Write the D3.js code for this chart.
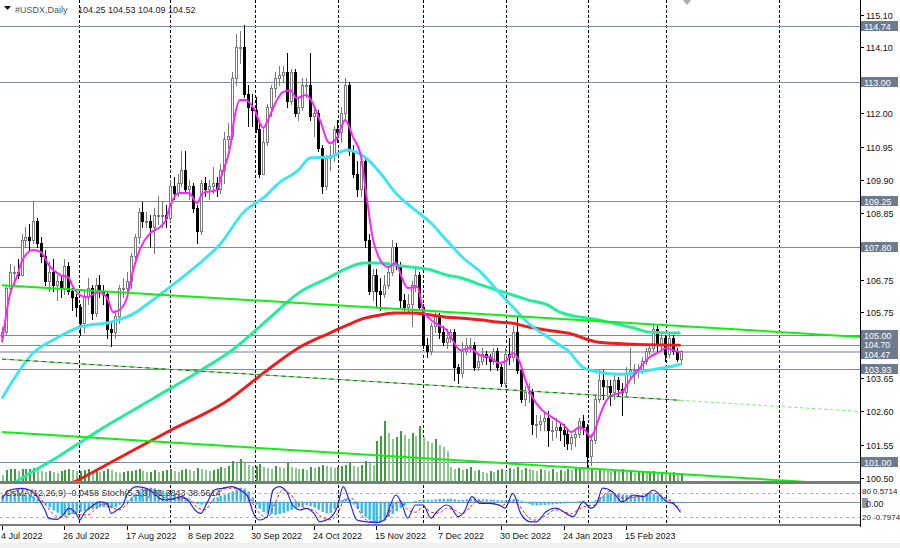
<!DOCTYPE html>
<html><head><meta charset="utf-8">
<script src="https://cdn.jsdelivr.net/npm/d3@7"></script>
<style>
body{margin:0;background:#fff}
svg{display:block}
text{font-family:"Liberation Sans",Arial,sans-serif;font-size:9px}
</style>
</head><body>
<svg id="c" width="900" height="548"></svg>
<script>
// ---------------- DATA ----------------
const symbolTitle = "#USDX,Daily";
const titleValues = "104.25 104.53 104.09 104.52";
// daily bars [open, high, low, close], bar 0 = 4 Jul 2022
const bars = [
[104.95,105.25,104.85,105.10],[105.10,106.60,105.00,106.50],[106.50,107.25,106.40,107.00],[107.00,107.20,106.60,107.00],
[107.00,107.40,106.80,106.90],[106.90,108.20,106.90,108.00],[108.00,108.40,107.80,108.10],[108.10,108.50,107.70,108.00],
[108.00,109.25,107.90,108.60],[108.60,108.70,107.80,107.90],[107.90,108.10,107.30,107.50],[107.50,107.70,106.60,106.70],
[106.70,107.30,106.40,107.00],[107.00,107.40,106.40,106.60],[106.60,106.90,106.10,106.70],[106.70,106.90,106.20,106.50],
[106.50,107.40,106.30,107.20],[107.20,107.30,106.30,106.40],[106.40,106.50,105.80,106.20],[106.20,106.30,105.60,105.90],
[105.90,106.00,105.00,105.40],[105.40,106.40,105.10,106.20],[106.20,106.80,106.00,106.50],[106.50,106.60,105.50,105.70],
[105.70,106.80,105.60,106.60],[106.60,106.90,106.20,106.40],[106.40,106.60,106.00,106.30],[106.30,106.40,104.90,105.20],
[105.20,105.40,104.65,105.10],[105.10,105.80,104.90,105.60],[105.60,106.60,105.40,106.50],[106.50,106.80,106.20,106.50],
[106.50,107.00,106.30,106.70],[106.70,107.60,106.50,107.50],[107.50,108.20,107.30,108.10],[108.10,109.00,107.90,108.90],
[108.90,109.20,108.40,108.60],[108.60,108.90,108.40,108.60],[108.60,108.80,107.80,108.40],[108.40,109.00,107.60,108.80],
[108.80,109.40,108.50,108.80],[108.80,109.20,108.40,108.80],[108.80,109.10,108.40,108.70],[108.70,109.90,108.60,109.70],
[109.70,110.00,109.30,109.50],[109.50,110.10,109.40,109.80],[109.80,110.80,109.70,110.20],[110.20,110.80,109.50,109.60],
[109.60,109.90,109.30,109.70],[109.70,109.80,108.90,109.00],[109.00,109.10,107.90,108.30],[108.30,109.90,108.20,109.80],
[109.80,110.00,109.40,109.60],[109.60,109.90,109.30,109.70],[109.70,110.30,109.50,109.80],[109.80,110.00,109.40,109.60],
[109.60,110.40,109.50,110.20],[110.20,111.40,109.80,111.20],[111.20,111.70,110.90,111.30],[111.30,113.30,111.20,113.10],
[113.10,114.50,112.90,114.10],[114.10,114.60,113.60,114.10],[114.10,114.78,112.50,112.60],[112.60,112.90,111.60,112.20],
[112.20,112.60,111.60,112.10],[112.10,112.50,111.40,111.50],[111.50,111.70,110.00,110.10],[110.10,111.50,110.10,111.10],
[111.10,112.30,111.00,112.20],[112.20,112.90,111.90,112.80],[112.80,113.30,112.50,113.10],[113.10,113.50,112.90,113.20],
[113.20,113.50,113.00,113.30],[113.30,113.90,112.20,112.40],[112.40,113.40,112.30,113.30],[113.30,113.40,111.90,112.00],
[112.00,112.50,111.80,112.20],[112.20,113.10,112.10,112.90],[112.90,113.10,112.50,112.90],[112.90,113.90,111.80,111.90],
[111.90,112.20,111.30,112.00],[112.00,112.10,110.80,110.90],[110.90,111.00,109.50,109.70],[109.70,110.70,109.60,110.60],
[110.60,111.00,110.20,110.70],[110.70,111.60,110.50,111.50],[111.50,111.80,111.10,111.40],[111.40,112.20,111.10,112.00],
[112.00,113.10,111.80,112.90],[112.90,113.00,110.70,110.80],[110.80,111.00,110.00,110.10],[110.10,110.50,109.40,109.60],
[109.60,110.70,109.40,110.50],[110.50,110.60,107.80,108.00],[108.00,108.20,106.30,106.40],[106.40,107.10,106.10,106.90],
[106.90,107.10,105.90,106.40],[106.40,106.80,105.80,106.30],[106.30,106.90,106.20,106.60],[106.60,107.20,106.50,107.00],
[107.00,108.00,106.90,107.80],[107.80,107.90,107.10,107.20],[107.20,107.30,105.90,106.10],[106.10,106.30,105.80,105.90],
[105.90,106.30,105.70,106.00],[106.00,106.70,105.30,106.60],[106.60,107.10,106.40,106.90],[106.90,107.00,105.80,105.90],
[105.90,106.00,104.60,104.70],[104.70,104.90,104.30,104.50],[104.50,105.40,104.40,105.30],[105.30,105.80,105.10,105.60],
[105.60,105.70,104.90,105.10],[105.10,105.30,104.70,104.80],[104.80,105.20,104.60,104.90],[104.90,105.20,104.80,105.10],
[105.10,105.20,103.60,104.00],[104.00,104.10,103.50,103.80],[103.80,104.80,103.70,104.50],[104.50,104.90,104.40,104.70],
[104.70,104.90,104.50,104.70],[104.70,104.80,103.90,104.00],[104.00,104.40,103.90,104.20],[104.20,104.60,104.10,104.40],
[104.40,104.50,104.10,104.30],[104.30,104.40,103.90,104.20],[104.20,104.60,104.10,104.50],[104.50,104.60,103.90,104.00],
[104.00,104.10,103.40,103.50],[103.50,104.60,103.40,104.40],[104.40,104.90,104.10,104.30],[104.30,105.30,104.20,105.10],
[105.10,105.60,103.80,103.90],[103.90,104.00,102.90,103.00],[103.00,103.40,102.80,103.20],[103.20,103.50,102.90,103.20],
[103.20,103.30,101.90,102.20],[102.20,102.50,101.80,102.20],[102.20,102.50,102.00,102.30],[102.30,102.60,102.00,102.40],
[102.40,102.60,101.50,102.00],[102.00,102.30,101.70,102.00],[102.00,102.40,101.80,102.10],[102.10,102.20,101.70,102.00],
[102.00,102.20,101.50,101.90],[101.90,102.00,101.40,101.60],[101.60,101.90,101.40,101.80],[101.80,102.00,101.50,101.90],
[101.90,102.40,101.80,102.30],[102.30,102.50,101.90,102.10],[102.10,102.20,100.80,101.20],[101.20,101.90,100.90,101.70],
[101.70,103.10,101.60,103.00],[103.00,103.90,102.90,103.60],[103.60,103.90,103.00,103.40],[103.40,103.60,103.10,103.40],
[103.40,103.60,102.80,103.20],[103.20,103.80,103.00,103.60],[103.60,103.70,103.10,103.30],[103.30,103.50,102.50,103.20],
[103.20,104.00,103.10,103.80],[103.80,104.60,103.70,103.90],[103.90,104.10,103.50,103.90],[103.90,104.10,103.70,103.90],
[103.90,104.30,103.80,104.20],[104.20,104.60,104.10,104.50],[104.50,104.70,104.40,104.60],[104.60,105.35,104.50,105.20],
[105.20,105.30,104.50,104.70],[104.70,105.10,104.50,104.90],[104.90,105.00,104.20,104.40],[104.40,105.10,104.30,104.90],
[104.90,105.00,104.40,104.50],[104.50,104.60,104.20,104.25],[104.25,104.53,104.09,104.52]
];
// tick volume (thousands)
const volumes = [
6,11,12,12,10,12,12,12,13,11,10,9,10,9,8,10,11,12,11,10,
10,11,12,10,11,9,10,12,11,9,8,9,10,10,11,12,10,9,9,11,9,10,11,
12,10,9,11,12,11,10,13,12,11,10,11,12,14,13,15,20,18,22,18,16,15,
15,17,14,13,12,15,14,13,18,14,13,12,12,11,14,13,14,16,15,14,13,
14,15,16,18,15,14,16,20,18,16,
40,45,60,48,42,44,50,46,42,48,45,55,44,40,38,42,36,34,30,
14,12,13,11,12,14,10,11,9,8,10,9,11,12,10,13,12,14,11,13,12,11,10,12,11,10,12,9,11,10,
12,11,13,14,12,11,13,10,12,11,10,9,11,10,12,9,10,8,9,10,8,9,10,8,9,7,8,9,7,8
];
// moving averages: [bar, price]
const maFast = [[0,104.78],[2,106.27],[4,106.90],[5,107.31],[8,107.69],[10,107.62],[12,107.21],[15,106.90],[17,106.83],[18,106.58],[20,106.27],[22,106.20],[23,106.27],[25,106.36],[27,106.17],[28.5,105.73],[30,105.79],[32,106.17],[33.5,106.99],[35.5,107.75],[38,108.22],[40.5,108.41],[42,108.63],[43,109.04],[45.5,109.49],[48,109.49],[50,109.17],[51.5,109.49],[55,109.58],[56.5,110.12],[58.5,110.94],[59.5,111.79],[61,112.42],[62.5,112.42],[64.5,112.17],[67,111.54],[68.5,111.88],[70.5,112.42],[72,112.67],[74,112.73],[75.5,112.48],[78,112.58],[79.5,112.36],[81.5,111.79],[84,111.06],[86,111.25],[87,111.57],[88,111.79],[90,111.25],[92,110.68],[93.5,109.36],[95,108.10],[97,107.37],[99,107.15],[101,107.28],[102.5,106.83],[104,106.49],[106.5,106.52],[108,105.79],[109.5,105.54],[112,105.32],[114,105.16],[115.5,104.85],[117.5,104.53],[120,104.60],[122.5,104.37],[125,104.31],[127.5,104.12],[129.5,104.22],[131,104.44],[132.5,104.22],[134.5,103.49],[136,103.05],[138.5,102.64],[141,102.42],[144,102.17],[146,101.95],[148,102.10],[149.5,102.01],[151,101.79],[152,102.01],[153.5,102.54],[155,102.95],[156.5,103.11],[159,103.21],[161,103.59],[163.5,103.96],[166,104.31],[168,104.44],[170.5,104.60],[172,104.53],[174,104.47]];
const maMid = [[0,103.01],[8,104.44],[14,104.91],[20,105.26],[28,105.42],[34,105.70],[38,106.05],[42,106.42],[46,106.80],[51,107.31],[56,107.88],[62,108.89],[67,109.33],[71,109.80],[76,110.21],[79,110.59],[84,110.62],[88.5,110.84],[93,110.62],[97,110.12],[101,109.48],[105,109.04],[110,108.54],[114,108.00],[118,107.47],[123,106.96],[127,106.42],[131,105.89],[135,105.38],[140,104.94],[143,104.69],[145,104.53],[149,103.99],[153,103.84],[158,103.77],[162,103.81],[166,103.90],[170.5,103.99],[174,104.09]];
const maSlow = [[0,100.10],[5,100.49],[15,101.22],[25,102.01],[38,102.95],[51,103.90],[59,104.53],[68,105.48],[76,106.33],[84,106.83],[88.5,107.12],[93,107.28],[97,107.28],[101,107.21],[105,107.15],[110,107.06],[114,106.90],[118,106.80],[123,106.58],[127,106.42],[131,106.27],[135,106.11],[140,105.95],[143,105.73],[153,105.48],[162,105.23],[166,105.10],[174,105.07]];
const ma200 = [[15,100.15],[19,100.40],[30,101.13],[43,101.99],[58,102.95],[68,103.90],[76,104.60],[84,105.07],[88.5,105.32],[93,105.54],[97,105.64],[101,105.70],[105,105.70],[110,105.64],[114,105.57],[118,105.54],[123,105.48],[127,105.42],[131,105.38],[135,105.26],[140,105.16],[145,105.07],[153,104.78],[162,104.72],[174,104.69]];
// trend lines [bar, price]
const trendUpper = [[0,106.58],[220,104.95]];
const trendChannel = [[0,104.25],[174,102.95]];
const trendChannelExt = [[174,102.95],[220,102.60]];
const trendLower = [[0,101.95],[207,100.37]];
// horizontal levels
const levels = [114.74,113.00,109.25,107.80,105.00,104.70,104.47,103.93,101.00];
const priceTicks = ["115.10","114.10","112.00","110.95","109.90","108.85","106.75","105.75","103.65","102.60","101.55","100.50"];
// date axis
const dateLabelBars = [0,16,32,48,64,80,96,112,128,144,160];
const dateLabels = ["4 Jul 2022","26 Jul 2022","17 Aug 2022","8 Sep 2022","30 Sep 2022","24 Oct 2022","15 Nov 2022","7 Dec 2022","30 Dec 2022","24 Jan 2023","15 Feb 2023"];
const gridBars = [19.7,43,64.9,86.2,107.9,129.2,150.2,170.2,199.2];
// oscillators
const osma = [
0.22,0.24,0.25,0.26,0.26,0.25,0.24,0.22,0.18,
0.10,0.02,
-0.10,-0.20,-0.30,-0.38,-0.45,-0.48,-0.47,
-0.42,-0.38,-0.35,-0.32,
-0.28,-0.25,-0.22,-0.20,-0.18,-0.20,-0.22,-0.18,
-0.10,-0.02,0.05,
0.15,0.25,0.35,0.42,0.47,0.48,0.46,0.42,0.38,0.33,0.30,0.26,0.22,0.18,0.12,
0.05,-0.02,-0.08,-0.10,-0.06,0.00,
0.08,0.15,0.20,0.24,0.28,
0.35,0.42,0.48,0.45,0.35,
0.15,
-0.10,-0.25,-0.35,-0.40,-0.42,-0.45,-0.42,-0.38,-0.33,-0.28,-0.22,
-0.18,-0.15,-0.12,-0.15,-0.20,-0.28,-0.35,
-0.40,-0.38,-0.25,-0.10,
0.05,0.10,0.06,
-0.10,-0.25,-0.40,-0.52,-0.62,-0.70,-0.72,-0.70,-0.62,-0.52,-0.42,
-0.32,-0.22,-0.12,-0.05,-0.02,
0.03,0.06,0.08,
0.07,0.06,0.08,0.10,0.10,0.09,0.10,0.08,0.06,0.06,0.08,0.10,
0.10,0.09,0.08,0.08,0.07,0.07,0.06,0.05,0.05,0.07,0.09,0.08,0.04,-0.02,
-0.08,-0.12,-0.13,-0.12,-0.11,-0.10,-0.09,-0.08,-0.07,-0.06,-0.04,
-0.02,0.00,0.02,0.03,0.00,-0.02,0.05,
0.15,0.22,0.28,0.30,0.30,0.28,0.25,0.24,0.24,0.23,0.22,0.22,0.24,0.26,0.26,0.22,0.18,0.12,
0.05,0.00,-0.03,-0.0458
];
const stochMain = [[0,66],[2,87.5],[5,91.7],[7,87.5],[9,71],[11,37.5],[12,16.7],[14,14],[16,29],[17,41.7],[19,29],[20,12.5],[21,29],[23,46],[25,58],[27,54],[28,29],[29.5,37.5],[31,50],[32,75],[34.5,96],[37,91.7],[39,79],[40.5,66],[42,62.5],[44,66],[46,71],[48,58],[49.5,37.5],[51,29],[52.5,54],[54.5,87.5],[56.5,91.7],[59,96],[61,87.5],[63,71],[64.5,29],[66,12.5],[68,21],[69.5,87.5],[71,96],[73,83],[74.5,50],[76.5,37.5],[78,41.7],[80,29],[81.5,8],[84,16.7],[86,46],[87.5,96],[89,62.5],[91,12.5],[93.5,8],[96,6],[98,12.5],[101,75],[102.5,54],[104,17],[106,50],[108,50],[110,17],[111.5,33],[114,50],[115,46],[117,21],[118.5,33],[120.5,71],[122.5,54],[125,54],[127.5,50],[129,42],[131,79],[133,29],[135.5,8],[137,8],[139.5,33],[142,42],[146.5,21],[149,58],[151,42],[152.5,54],[154,92],[156.5,83],[159,58],[162,75],[164.5,71],[167,87.5],[169,71],[170.5,58],[172,54],[174,31.38]];
const stochSignal = [[0,72],[2,80],[4,88],[6,90],[8,84],[10,65],[12,40],[14,22],[16,20],[18,30],[20,26],[22,25],[24,40],[26,52],[28,45],[30,38],[32,52],[34,75],[36,90],[38,90],[40,78],[42,67],[44,64],[46,67],[48,64],[50,44],[52,38],[54,62],[56,84],[58,92],[60,92],[62,84],[64,58],[66,30],[68,18],[70,55],[72,88],[74,76],[76,52],[78,42],[80,36],[82,20],[84,13],[86,28],[88,65],[90,65],[92,28],[94,10],[96,8],[98,10],[100,42],[102,60],[104,38],[106,32],[108,45],[110,32],[112,30],[114,42],[116,38],[118,28],[120,45],[122,60],[124,55],[126,53],[128,48],[130,58],[132,55],[134,30],[136,12],[138,15],[140,28],[142,38],[144,34],[146,28],[148,40],[150,48],[152,50],[154,72],[156,84],[158,72],[160,66],[162,70],[164,72],[166,80],[168,78],[170,68],[172,58],[174,38.56]];
const oscLegend = "OsMA(12,26,9) -0.0458  Stoch(5,3,3) 31.3843 38.5614";

// ---------------- CHART ----------------
const svg = d3.select("#c");
const X = d3.scaleLinear().domain([0,220]).range([2,860]);
const Y = d3.scaleLinear().domain([100.5,115.1]).range([478,15]);
const YV = d3.scaleLinear().domain([0,60]).range([481,421]);
const YS = d3.scaleLinear().domain([0,100]).range([525,485]);
const YM = d3.scaleLinear().domain([-0.7974,0.5714]).range([525,485]);
const px = i => Math.round(X(i));
const py = v => Math.round(Y(v));

svg.append("rect").attr("width",900).attr("height",548).attr("fill","#fff");
svg.append("rect").attr("x",0).attr("y",543).attr("width",900).attr("height",5).attr("fill","#f0f0f0");

const defs = svg.append("defs");
defs.append("clipPath").attr("id","cm").append("rect").attr("x",0).attr("y",0).attr("width",860).attr("height",481);
defs.append("clipPath").attr("id","co").append("rect").attr("x",0).attr("y",484).attr("width",860).attr("height",40);

// grid
svg.append("g").selectAll("line").data(gridBars).join("line")
  .attr("x1",d=>px(d)+0.5).attr("x2",d=>px(d)+0.5).attr("y1",0).attr("y2",524)
  .attr("stroke","#000").attr("stroke-width",1).attr("stroke-dasharray","3,2");

const main = svg.append("g").attr("clip-path","url(#cm)");

// levels
main.selectAll("line.lv").data(levels).join("line").attr("class","lv")
  .attr("x1",0).attr("x2",860)
  .attr("y1",d=>py(d)+(d===104.47?0:0.5)).attr("y2",d=>py(d)+(d===104.47?0:0.5))
  .attr("stroke",d=>d===104.47?"#b8bcc4":"#7d8ba0").attr("stroke-width",d=>d===104.47?2:1);

// volumes
main.selectAll("rect.vol").data(volumes).join("rect").attr("class","vol")
  .attr("x",(d,i)=>px(i)).attr("width",2)
  .attr("y",d=>Math.round(YV(d))).attr("height",d=>481-Math.round(YV(d)))
  .attr("fill",(d,i)=> i>0 && d>=volumes[i-1] ? "#3d9d3d" : "#8cc88c");

// candles
const cg = main.append("g");
bars.forEach((b,i)=>{
  const [o,h,l,c]=b; const xx=px(i); const bull=c>=o;
  cg.append("line").attr("x1",xx+0.5).attr("x2",xx+0.5).attr("y1",py(h)).attr("y2",py(l)+1)
    .attr("stroke",bull?"#777":"#000").attr("stroke-width",1);
  const top=Math.min(py(o),py(c)), bot=Math.max(py(o),py(c));
  const hgt=Math.max(1,bot-top);
  if(bull){
    cg.append("rect").attr("x",xx-1).attr("y",top).attr("width",3).attr("height",hgt+1).attr("fill","#7a7a7a");
    if(hgt>2) cg.append("rect").attr("x",xx).attr("y",top+1).attr("width",1).attr("height",hgt-1).attr("fill","#fff");
  } else {
    cg.append("rect").attr("x",xx-1).attr("y",top).attr("width",3).attr("height",hgt+1).attr("fill","#000");
  }
});

// moving averages
const lineP = d3.line().x(d=>X(d[0])).y(d=>Y(d[1])).curve(d3.curveMonotoneX);
main.append("path").attr("d",lineP(ma200)).attr("fill","none").attr("stroke","#ee1c1c").attr("stroke-width",3);
main.append("path").attr("d",lineP(maSlow)).attr("fill","none").attr("stroke","#22ee99").attr("stroke-width",3);
main.append("path").attr("d",lineP(maMid)).attr("fill","none").attr("stroke","#3fe6f2").attr("stroke-width",3);
main.append("path").attr("d",lineP(maFast)).attr("fill","none").attr("stroke","#ff22ff").attr("stroke-width",2);

// trend lines
const lineL = d3.line().x(d=>X(d[0])).y(d=>Y(d[1]));
main.append("path").attr("d",lineL(trendUpper)).attr("stroke","#11ee11").attr("stroke-width",2).attr("fill","none");
main.append("path").attr("d",lineL(trendLower)).attr("stroke","#11ee11").attr("stroke-width",2).attr("fill","none");
main.append("path").attr("d",lineL(trendChannel)).attr("stroke","#55dd55").attr("stroke-width",1).attr("fill","none");
main.append("path").attr("d",lineL(trendChannel)).attr("stroke","#2a5a2a").attr("stroke-width",1).attr("stroke-dasharray","4,4").attr("fill","none");
main.append("path").attr("d",lineL(trendChannelExt)).attr("stroke","#66ee66").attr("stroke-width",1).attr("stroke-dasharray","3,3").attr("fill","none");

// chart shift marker
svg.append("path").attr("d",`M${px(174)+2},0 L${px(174)+10},0 L${px(174)+6},5 Z`).attr("fill","#aaa");

// separators and axis line
svg.append("rect").attr("x",0).attr("y",481).attr("width",861).attr("height",3).attr("fill","#7b7b7b");
svg.append("rect").attr("x",0).attr("y",524).attr("width",861).attr("height",2).attr("fill","#7b7b7b");
svg.append("line").attr("x1",860.5).attr("x2",860.5).attr("y1",0).attr("y2",527).attr("stroke","#000");

// oscillator panel
const osc = svg.append("g").attr("clip-path","url(#co)");
[80,20].forEach(v=>osc.append("line").attr("x1",0).attr("x2",860).attr("y1",Math.round(YS(v))+0.5).attr("y2",Math.round(YS(v))+0.5)
  .attr("stroke","#b0b0b0").attr("stroke-dasharray","3,3"));
osc.append("line").attr("x1",0).attr("x2",860).attr("y1",Math.round(YM(0))+0.5).attr("y2",Math.round(YM(0))+0.5).attr("stroke","#7d8ba0");
osc.selectAll("rect.h").data(osma).join("rect").attr("class","h")
  .attr("x",(d,i)=>px(i)-0.5).attr("width",2.4)
  .attr("y",d=>Math.min(YM(d),YM(0))).attr("height",d=>Math.max(1,Math.abs(YM(d)-YM(0))))
  .attr("fill","#35b9ee");
const lineS = d3.line().x(d=>X(d[0])).y(d=>YS(d[1])).curve(d3.curveMonotoneX);
osc.append("path").attr("d",lineS(stochSignal)).attr("fill","none").attr("stroke","#ee2222").attr("stroke-width",1).attr("stroke-dasharray","3,2");
osc.append("path").attr("d",lineS(stochMain)).attr("fill","none").attr("stroke","#2424e8").attr("stroke-width",1.2);
svg.append("text").attr("x",5).attr("y",496).attr("fill","#333").text(oscLegend);

// osc axis labels
svg.append("text").attr("x",862).attr("y",494).attr("fill","#222").style("font-size","8px").text("80");
svg.append("text").attr("x",873).attr("y",494).attr("fill","#222").style("font-size","8px").text("0.5714");
svg.append("rect").attr("x",862).attr("y",498).attr("width",6).attr("height",10).attr("fill","#8a96a6");
svg.append("text").attr("x",866).attr("y",507).attr("fill","#222").text("0.00");
svg.append("text").attr("x",862).attr("y",520).attr("fill","#222").style("font-size","8px").text("20");
svg.append("text").attr("x",873).attr("y",520).attr("fill","#222").style("font-size","8px").text("-0.7974");

// price axis ticks
priceTicks.forEach(t=>{
  const yy=py(+t);
  svg.append("line").attr("x1",860).attr("x2",864).attr("y1",yy+0.5).attr("y2",yy+0.5).attr("stroke","#000");
  svg.append("text").attr("x",866).attr("y",yy+3.5).attr("fill","#111").text(t);
});
// level boxes
levels.slice().sort((a,b)=>a-b).forEach(v=>{
  const yy=py(v)+(v===104.47?2:0)+(v===104.70?-1:0);
  svg.append("rect").attr("x",861).attr("y",yy-5).attr("width",37).attr("height",10).attr("fill","#6c7b8f");
  svg.append("text").attr("x",864).attr("y",yy+3.5).attr("fill","#fff").style("font-size",(v===104.47||v===104.70)?"8.5px":"9px").text(v.toFixed(2));
});

// date axis
dateLabelBars.forEach((b,k)=>{
  svg.append("line").attr("x1",px(b)+0.5).attr("x2",px(b)+0.5).attr("y1",526).attr("y2",530).attr("stroke","#000");
  svg.append("text").attr("x",px(b)-1).attr("y",539).attr("fill","#111").text(dateLabels[k]);
});

// title
svg.append("path").attr("d","M4,6 L11,6 L7.5,10 Z").attr("fill","#111");
svg.append("text").attr("x",15).attr("y",13).attr("fill","#555").text(symbolTitle);
svg.append("text").attr("x",78).attr("y",13).attr("fill","#222").text(titleValues);
</script>
</body></html>
